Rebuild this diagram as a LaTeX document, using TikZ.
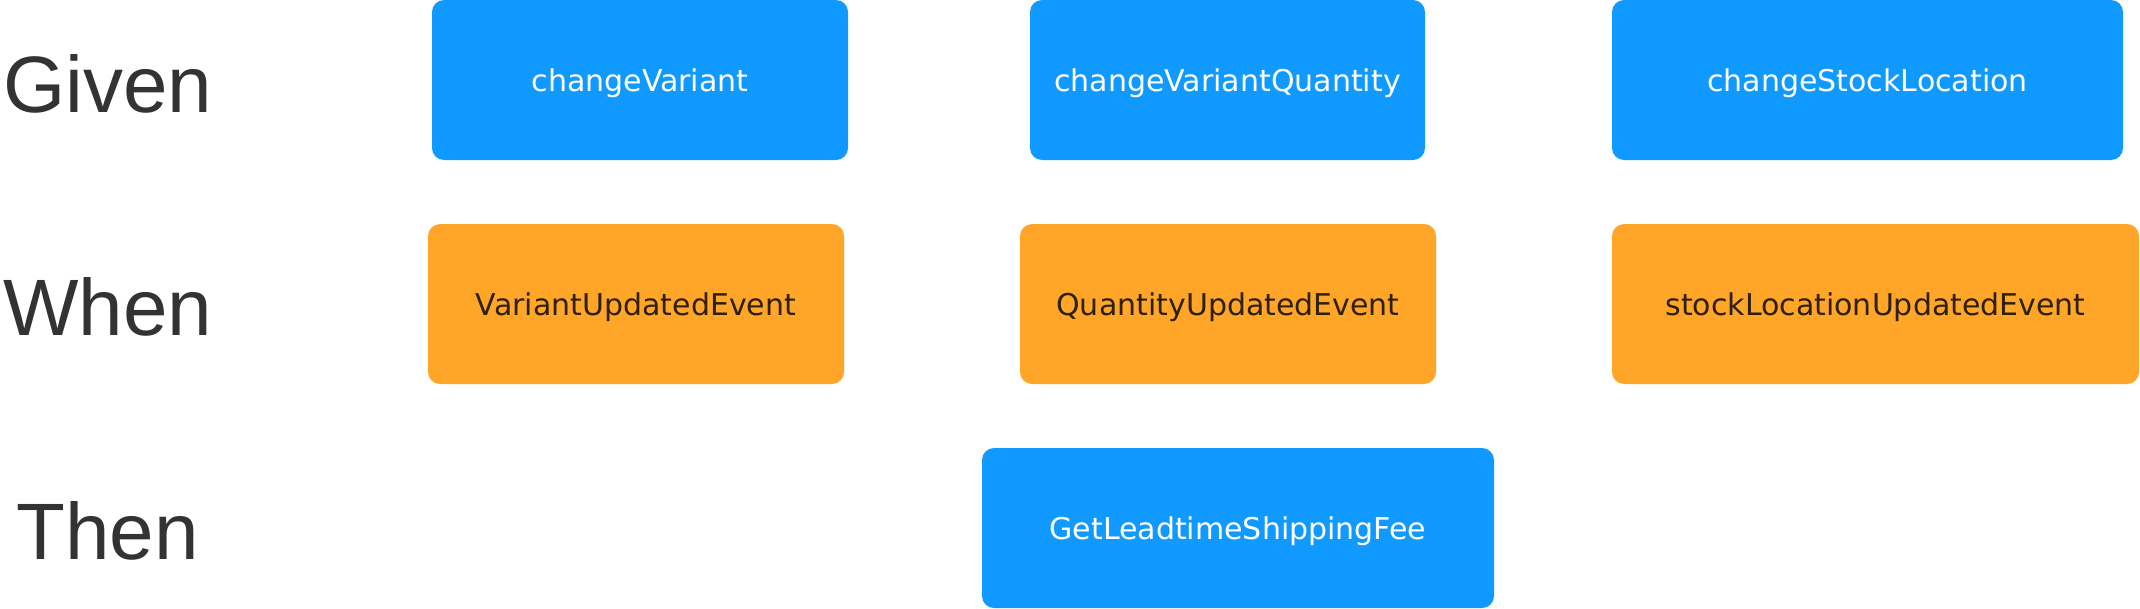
\documentclass[tikz,border=0pt]{standalone}
\usepackage{fontspec}
\setmainfont{Liberation Sans}
\newfontfamily\boxfont{DejaVu Sans}
\usepackage{tikz}
\usetikzlibrary{positioning}
\definecolor{cmdblue}{RGB}{16,154,255}
\definecolor{evtorange}{RGB}{255,166,41}
\definecolor{evttext}{RGB}{46,31,5}
\definecolor{labelgray}{RGB}{51,51,51}
\tikzset{% 
    cmd/.style={%
        rectangle, rounded corners=12pt, fill=cmdblue, text=white, inner sep=0pt, outer sep=0pt,
        minimum height=160pt, text height=22pt, text depth=0pt, font=\boxfont\fontsize{30}{35}\selectfont
    }
}
\tikzset{% 
    evt/.style={%
        cmd, fill=evtorange, text=evttext
    }
}
\tikzstyle{rowlabel}=[anchor=base west, inner sep=0pt, text=labelgray,
    font=\fontsize{80}{90}\selectfont]

\begin{document}
\begin{tikzpicture}[x=1pt,y=-1pt]
  \useasboundingbox[fill=white] (0,0) rectangle (2140,608);

  % row labels
  \node[rowlabel] (Given) at (3,112) {Given};
  \node[rowlabel] (When) at (3,335) {When};
  \node[rowlabel] (Then) at (16,559) {Then};

  % given
  \node[cmd, minimum width=416pt] (CV) at (640,80) {changeVariant};
  \node[cmd, minimum width=395pt] (CVQ) at (1227.5,80) {changeVariantQuantity};
  \node[cmd, minimum width=511pt] (CSL) at (1867.5,80) {changeStockLocation};

  % when
  \node[evt, minimum width=416pt] (VUE) at (636,304) {VariantUpdatedEvent};
  \node[evt, minimum width=416pt] (QUE) at (1228,304) {QuantityUpdatedEvent};
  \node[evt, minimum width=527pt] (SLUE) at (1875.5,304) {stockLocationUpdatedEvent};

  % then
  \node[cmd, minimum width=512pt] (GLSF) at (1238,528) {GetLeadtimeShippingFee};
\end{tikzpicture}
\end{document}
